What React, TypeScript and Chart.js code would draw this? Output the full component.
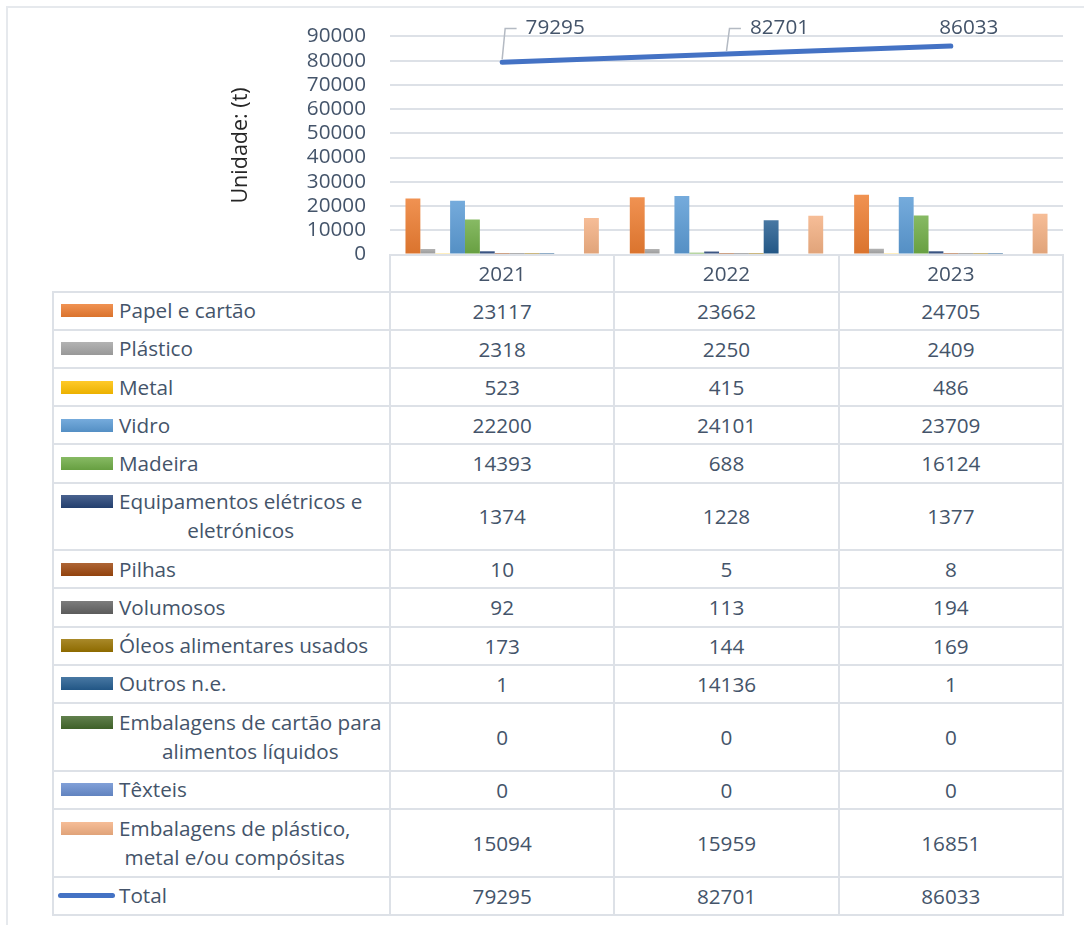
import React, { useEffect, useRef } from "react";
import { Chart, registerables } from "chart.js";

Chart.register(...registerables);

// ---------------- data ----------------
const years = ["2021", "2022", "2023"];

const seriesLabels = [
  "Papel e cartão",
  "Plástico",
  "Metal",
  "Vidro",
  "Madeira",
  "Equipamentos elétricos e\neletrónicos",
  "Pilhas",
  "Volumosos",
  "Óleos alimentares usados",
  "Outros n.e.",
  "Embalagens de cartão para\nalimentos líquidos",
  "Têxteis",
  "Embalagens de plástico,\nmetal e/ou compósitas",
];

const papel = [23117, 23662, 24705];
const plastico = [2318, 2250, 2409];
const metal = [523, 415, 486];
const vidro = [22200, 24101, 23709];
const madeira = [14393, 688, 16124];
const equipamentos = [1374, 1228, 1377];
const pilhas = [10, 5, 8];
const volumosos = [92, 113, 194];
const oleos = [173, 144, 169];
const outros = [1, 14136, 1];
const embCartao = [0, 0, 0];
const texteis = [0, 0, 0];
const embPlastico = [15094, 15959, 16851];

const totalLabel = "Total";
const total = [79295, 82701, 86033];

const yTicks = [0, 10000, 20000, 30000, 40000, 50000, 60000, 70000, 80000, 90000];
const yTitle = "Unidade: (t)";

const seriesValues = [
  papel, plastico, metal, vidro, madeira, equipamentos, pilhas,
  volumosos, oleos, outros, embCartao, texteis, embPlastico,
];

const seriesColors = [
  "#ED7D31", "#A5A5A5", "#FFC000", "#5B9BD5", "#70AD47", "#264478", "#9E480E",
  "#636363", "#997300", "#255E91", "#43682B", "#698ED0", "#F4B183",
];
const totalColor = "#4472C4";

// ---------------- styles ----------------
const FONT = "'Open Sans', sans-serif";
const FS = 20.7;
const TEXT = "#44546A";
const GRID = "#DDE1E7";
const W = 1084;
const H = 925;
const PLOT_LEFT = 390;
const PLOT_RIGHT = 1063;
const PLOT_TOP = 36;
const PLOT_BOTTOM = 254.5;
const CANVAS_H = 292;
const TABLE_LEFT = 53;
const HEADER_TOP = 255;
const HEADER_BOTTOM = 291.5;
const ROW1 = 38.2;
const ROW2 = 67.7;
const LINE_H = 29;

function hexToRgb(hex: string) {
  const h = hex.replace("#", "");
  return [parseInt(h.slice(0, 2), 16), parseInt(h.slice(2, 4), 16), parseInt(h.slice(4, 6), 16)];
}
function mix(hex: string, target: number, t: number) {
  const [r, g, b] = hexToRgb(hex);
  const f = (c: number) => Math.round(c + (target - c) * t);
  return `rgb(${f(r)},${f(g)},${f(b)})`;
}
const light = (c: string) => mix(c, 255, 0.16);
const dark = (c: string) => mix(c, 0, 0.08);

const labelDx = [53, 53, 18];
const labelLeader = [true, true, false];

const totalLabelPlugin = {
  id: "totalLabels",
  afterDatasetsDraw(chart: any) {
    const meta = chart.getDatasetMeta(0);
    const ctx = chart.ctx as CanvasRenderingContext2D;
    const cy = chart.chartArea.top - 8;
    ctx.save();
    ctx.font = `${FS}px ${FONT}`;
    ctx.fillStyle = TEXT;
    ctx.textAlign = "center";
    ctx.textBaseline = "middle";
    meta.data.forEach((pt: any, i: number) => {
      const txt = String(total[i]);
      const cx = pt.x + labelDx[i];
      ctx.fillText(txt, cx, cy);
      if (labelLeader[i]) {
        const w = ctx.measureText(txt).width;
        ctx.strokeStyle = "#B4BAC3";
        ctx.lineWidth = 1.5;
        ctx.beginPath();
        ctx.moveTo(pt.x, pt.y - 3);
        ctx.lineTo(pt.x + 3, cy);
        ctx.lineTo(cx - w / 2 - 9, cy);
        ctx.stroke();
      }
    });
    ctx.restore();
  },
};

export default function App() {
  const ref = useRef<HTMLCanvasElement>(null);

  useEffect(() => {
    if (!ref.current) return;
    const barSets = seriesLabels.map((lab, i) => ({
      type: "bar" as const,
      label: lab.replace("\n", " "),
      data: seriesValues[i],
      order: 1,
      backgroundColor: (c: any) => {
        const base = seriesColors[i];
        const chart = c.chart;
        if (!chart.chartArea || c.type !== "data") return base;
        const y = chart.scales.y;
        const top = y.getPixelForValue(c.raw);
        const bot = y.getPixelForValue(0);
        if (bot - top < 2) return base;
        const g = chart.ctx.createLinearGradient(0, top, 0, bot);
        g.addColorStop(0, light(base));
        g.addColorStop(1, dark(base));
        return g;
      },
      borderWidth: 0,
      inflateAmount: 0,
      categoryPercentage: 0.862,
      barPercentage: 1,
    }));
    const chart = new Chart(ref.current, {
      data: {
        labels: years,
        datasets: [
          {
            type: "line" as const,
            label: totalLabel,
            data: total,
            order: 0,
            borderColor: totalColor,
            backgroundColor: totalColor,
            borderWidth: 5,
            borderCapStyle: "round",
            pointRadius: 0,
            tension: 0,
          } as any,
          ...barSets,
        ],
      },
      options: {
        animation: false,
        responsive: false,
        devicePixelRatio: 1,
        layout: {
          padding: { left: 225, right: W - PLOT_RIGHT, top: PLOT_TOP, bottom: CANVAS_H - PLOT_BOTTOM },
        },
        plugins: { legend: { display: false }, tooltip: { enabled: false } },
        scales: {
          x: { display: false, offset: true },
          y: {
            min: 0,
            max: 90000,
            afterBuildTicks: (s: any) => {
              s.ticks = yTicks.map((v) => ({ value: v }));
            },
            afterFit: (s: any) => {
              s.width = PLOT_LEFT - 225;
            },
            ticks: {
              autoSkip: false,
              padding: 24,
              color: TEXT,
              font: { family: FONT, size: FS },
              callback: (v: any) => String(v),
            },
            grid: { color: GRID, lineWidth: 2, drawTicks: false },
            border: { display: false },
            title: {
              display: true,
              text: yTitle,
              color: "#262626",
              font: { family: FONT, size: 21.5 },
              padding: { top: 3, bottom: 3 },
            },
          },
        },
      },
      plugins: [totalLabelPlugin],
    } as any);
    return () => chart.destroy();
  }, []);

  // table geometry
  const colW = (PLOT_RIGHT - PLOT_LEFT) / years.length;
  const colEdges = years.map((_, i) => PLOT_LEFT + i * colW).concat([PLOT_RIGHT]);
  const rows = seriesLabels
    .map((lab, i) => ({ lines: lab.split("\n"), values: seriesValues[i], color: seriesColors[i], isLine: false }))
    .concat([{ lines: [totalLabel], values: total, color: totalColor, isLine: true }]);
  let yCur = HEADER_BOTTOM;
  const rowPos = rows.map((r) => {
    const h = r.lines.length > 1 ? ROW2 : ROW1;
    const top = yCur;
    yCur += h;
    return { top, h };
  });
  const tableBottom = yCur;

  const hLine = (x1: number, x2: number, y: number, key: string) => (
    <div key={key} style={{ position: "absolute", left: x1 - 1, top: y - 1, width: x2 - x1 + 2, height: 2, background: GRID }} />
  );
  const vLine = (x: number, y1: number, y2: number, key: string) => (
    <div key={key} style={{ position: "absolute", left: x - 1, top: y1 - 1, width: 2, height: y2 - y1 + 2, background: GRID }} />
  );

  return (
    <div
      style={{
        position: "absolute",
        left: 0,
        top: 0,
        width: W,
        height: H,
        overflow: "hidden",
        background: "#fff",
        fontFamily: FONT,
        color: TEXT,
      }}
    >
      <div
        style={{
          position: "absolute",
          left: 6,
          top: 6,
          width: W + 50,
          height: H + 50,
          borderTop: "2px solid #E6E9ED",
          borderLeft: "2px solid #E6E9ED",
        }}
      />
      <canvas
        ref={ref}
        width={W}
        height={CANVAS_H}
        style={{ position: "absolute", left: 0, top: 0, width: W, height: CANVAS_H }}
      />
      {/* header years */}
      {years.map((yr, i) => (
        <div
          key={"h" + i}
          style={{
            position: "absolute",
            left: colEdges[i],
            top: HEADER_TOP,
            width: colW,
            height: HEADER_BOTTOM - HEADER_TOP,
            display: "flex",
            alignItems: "center",
            justifyContent: "center",
            fontSize: FS,
          }}
        >
          {yr}
        </div>
      ))}
      {/* rows */}
      {rows.map((r, i) => {
        const { top, h } = rowPos[i];
        const blockTop = top + (h - r.lines.length * LINE_H) / 2;
        const firstCenter = blockTop + LINE_H / 2;
        return (
          <React.Fragment key={"r" + i}>
            {r.isLine ? (
              <div
                style={{
                  position: "absolute",
                  left: 58,
                  top: firstCenter - 2.5,
                  width: 57,
                  height: 5,
                  borderRadius: 3,
                  background: r.color,
                }}
              />
            ) : (
              <div
                style={{
                  position: "absolute",
                  left: 61,
                  top: firstCenter - 6.5,
                  width: 52,
                  height: 13,
                  background: `linear-gradient(to bottom, ${light(r.color)}, ${dark(r.color)})`,
                }}
              />
            )}
            <div
              style={{
                position: "absolute",
                left: 119,
                top: blockTop,
                lineHeight: LINE_H + "px",
                fontSize: FS,
                textAlign: "center",
                whiteSpace: "nowrap",
              }}
            >
              {r.lines.map((ln, k) => (
                <div key={k}>{ln}</div>
              ))}
            </div>
            {r.values.map((v, j) => (
              <div
                key={"v" + j}
                style={{
                  position: "absolute",
                  left: colEdges[j],
                  top,
                  width: colW,
                  height: h,
                  display: "flex",
                  alignItems: "center",
                  justifyContent: "center",
                  fontSize: FS,
                }}
              >
                {v}
              </div>
            ))}
          </React.Fragment>
        );
      })}
      {/* grid lines of table */}
      {hLine(PLOT_LEFT, PLOT_RIGHT, HEADER_TOP, "ht")}
      {hLine(TABLE_LEFT, PLOT_RIGHT, HEADER_BOTTOM, "hb")}
      {rowPos.map((p, i) => hLine(TABLE_LEFT, PLOT_RIGHT, p.top + p.h, "hl" + i))}
      {vLine(TABLE_LEFT, HEADER_BOTTOM, tableBottom, "vl")}
      {colEdges.map((x, i) => vLine(x, HEADER_TOP, tableBottom, "vc" + i))}
    </div>
  );
}
